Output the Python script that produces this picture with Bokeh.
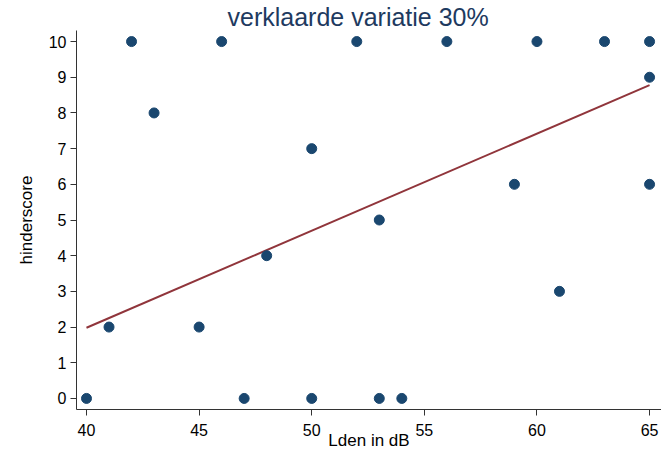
from bokeh.plotting import figure
from bokeh.models import Range1d, FixedTicker, Title
from bokeh.embed import file_html
from bokeh.resources import INLINE

# data
lden = [40, 41, 42, 43, 45, 46, 47, 48, 50, 50, 52, 53, 53, 54, 56, 59, 60, 61, 63, 65, 65, 65]
score = [0, 2, 10, 8, 2, 10, 0, 4, 7, 0, 10, 5, 0, 0, 10, 6, 10, 3, 10, 10, 9, 6]
fit_x = [40, 65]
fit_y = [1.98, 8.78]
x_ticks = [40, 45, 50, 55, 60, 65]
y_ticks = list(range(0, 11))

FONT = "Liberation Sans"

p = figure(width=661, height=452, output_backend="svg", toolbar_location=None,
           x_range=Range1d(39.556, 65.53), y_range=Range1d(-0.31, 10.31),
           min_border_left=76, min_border_right=0, min_border_top=29, min_border_bottom=30)
p.title = Title(text="verklaarde variatie 30%", align="left", text_font=FONT,
                text_font_size="25px", text_font_style="normal", text_color="#1e3a5f",
                offset=151, standoff=0)
p.outline_line_color = None
p.grid.visible = False
p.background_fill_color = "white"

p.line(fit_x, fit_y, line_color="#90353b", line_width=2)
p.scatter(lden, score, size=10, fill_color="#1a476f", line_color="#1a476f")

for ax in (p.xaxis[0], p.yaxis[0]):
    ax.axis_line_color = "#333333"
    ax.major_tick_line_color = "#333333"
    ax.major_tick_out = 6
    ax.major_tick_in = 0
    ax.minor_tick_line_color = None
    ax.major_label_text_font = FONT
    ax.major_label_text_font_size = "16px"
    ax.major_label_text_color = "black"
    ax.axis_label_text_font = FONT
    ax.axis_label_text_font_size = "17px"
    ax.axis_label_text_font_style = "normal"
    ax.axis_label_text_color = "black"

p.xaxis.ticker = FixedTicker(ticks=x_ticks)
p.yaxis.ticker = FixedTicker(ticks=y_ticks)
p.xaxis.axis_label = "Lden in dB"
p.yaxis.axis_label = "hinderscore"
p.xaxis.axis_label_standoff = -8
p.yaxis.axis_label_standoff = 10
p.xaxis.major_label_standoff = 8
p.yaxis.major_label_standoff = 4
p.yaxis.major_label_orientation = "horizontal"

open("out.html", "w").write(file_html(p, INLINE))
